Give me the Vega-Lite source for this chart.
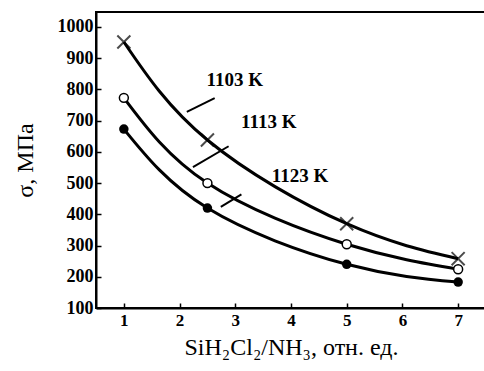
{
  "$schema": "https://vega.github.io/schema/vega-lite/v6.json",
  "autosize": "none",
  "padding": {"left": 96, "top": 12, "right": 0, "bottom": 63},
  "width": 390,
  "height": 296,
  "background": "white",
  "config": {
    "view": {"stroke": "black", "strokeWidth": 2},
    "font": "Liberation Serif"
  },
  "datasets": {
    "points": [
      {"series": "1103 K", "ratio": 1, "sigma": 952},
      {"series": "1103 K", "ratio": 2.5, "sigma": 638},
      {"series": "1103 K", "ratio": 5, "sigma": 370},
      {"series": "1103 K", "ratio": 7, "sigma": 258},
      {"series": "1113 K", "ratio": 1, "sigma": 773},
      {"series": "1113 K", "ratio": 2.5, "sigma": 500},
      {"series": "1113 K", "ratio": 5, "sigma": 304},
      {"series": "1113 K", "ratio": 7, "sigma": 224},
      {"series": "1123 K", "ratio": 1, "sigma": 673},
      {"series": "1123 K", "ratio": 2.5, "sigma": 420},
      {"series": "1123 K", "ratio": 5, "sigma": 240},
      {"series": "1123 K", "ratio": 7, "sigma": 183}
    ],
    "pointers": [
      {"series": "1103 K", "ratio": 2.63, "sigma": 772, "ratio_end": 2.13, "sigma_end": 728},
      {"series": "1113 K", "ratio": 2.88, "sigma": 618, "ratio_end": 2.24, "sigma_end": 551},
      {"series": "1123 K", "ratio": 3.11, "sigma": 464, "ratio_end": 2.74, "sigma_end": 424}
    ],
    "labels": [
      {"label": "1103 K", "ratio": 2.99, "sigma": 830},
      {"label": "1113 K", "ratio": 3.6, "sigma": 696},
      {"label": "1123 K", "ratio": 4.16, "sigma": 522}
    ]
  },
  "encoding": {
    "x": {
      "field": "ratio", "type": "quantitative",
      "scale": {"domain": [0.5, 7.5], "nice": false, "zero": false},
      "axis": {
        "values": [1, 2, 3, 4, 5, 6, 7],
        "format": "d",
        "title": "SiH₂Cl₂/NH₃, отн. ед.",
        "titleFont": "Liberation Serif", "titleFontSize": 24, "titleFontWeight": "normal",
        "titleColor": "black", "titlePadding": 7,
        "labelFont": "Liberation Serif", "labelFontSize": 17, "labelFontWeight": "bold",
        "labelColor": "black", "labelPadding": 9, "labelOverlap": false,
        "tickSize": -5, "tickColor": "black", "tickWidth": 1.5,
        "domainColor": "black", "domainWidth": 2, "grid": false
      }
    },
    "y": {
      "field": "sigma", "type": "quantitative",
      "scale": {"domain": [100, 1048], "nice": false, "zero": false},
      "axis": {
        "values": [100, 200, 300, 400, 500, 600, 700, 800, 900, 1000],
        "format": "d",
        "title": "σ, МПа",
        "titleFont": "Liberation Serif", "titleFontSize": 24, "titleFontWeight": "normal",
        "titleColor": "black", "titlePadding": 20,
        "labelFont": "Liberation Serif", "labelFontSize": 18, "labelFontWeight": "bold",
        "labelColor": "black", "labelPadding": 8, "labelOverlap": false, "labelBound": false,
        "labelSeparation": 0,
        "tickSize": -5, "tickColor": "black", "tickWidth": 1.5,
        "domainColor": "black", "domainWidth": 2, "grid": false
      }
    }
  },
  "layer": [
    {
      "data": {"name": "points"},
      "mark": {"type": "line", "interpolate": "natural", "color": "black", "strokeWidth": 3},
      "encoding": {"detail": {"field": "series"}}
    },
    {
      "data": {"name": "points"},
      "transform": [{"filter": "datum.series === '1103 K'"}],
      "mark": {"type": "point", "shape": "M-1,-1L1,1M-1,1L1,-1", "size": 170, "stroke": "black", "strokeWidth": 2, "filled": false}
    },
    {
      "data": {"name": "points"},
      "transform": [{"filter": "datum.series === '1113 K'"}],
      "mark": {"type": "point", "shape": "circle", "size": 80, "stroke": "black", "strokeWidth": 1.5, "fill": "white", "fillOpacity": 1, "filled": false}
    },
    {
      "data": {"name": "points"},
      "transform": [{"filter": "datum.series === '1123 K'"}],
      "mark": {"type": "point", "shape": "circle", "size": 90, "color": "black", "filled": true, "opacity": 1}
    },
    {
      "data": {"name": "pointers"},
      "mark": {"type": "rule", "color": "black", "strokeWidth": 2},
      "encoding": {
        "x2": {"field": "ratio_end"},
        "y2": {"field": "sigma_end"}
      }
    },
    {
      "data": {"name": "labels"},
      "mark": {"type": "text", "font": "Liberation Serif", "fontSize": 19, "fontWeight": "bold", "color": "black", "align": "center", "baseline": "middle"},
      "encoding": {"text": {"field": "label"}}
    }
  ]
}
